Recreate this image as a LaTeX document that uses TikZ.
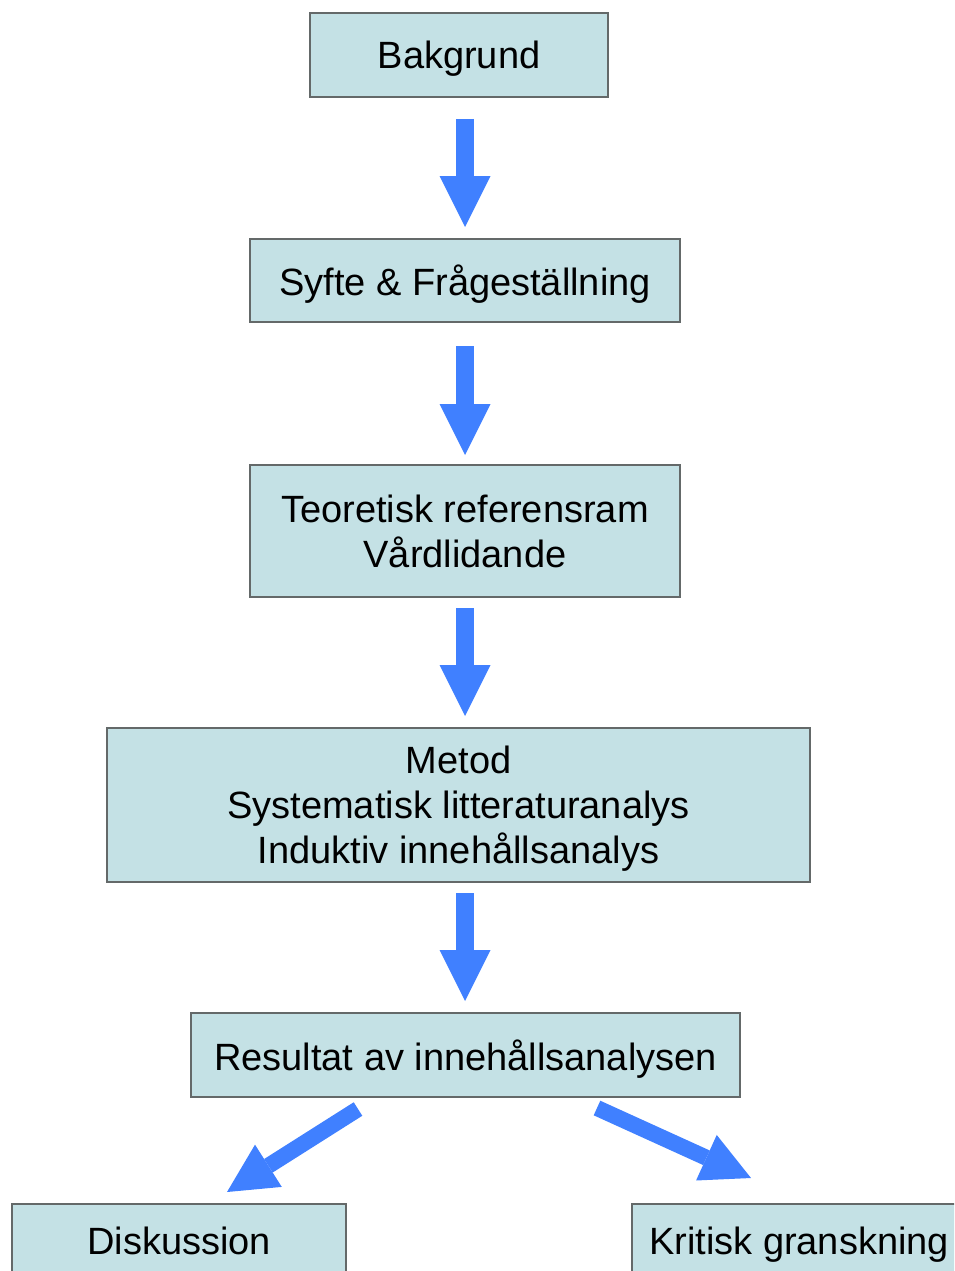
\documentclass[tikz,border=0pt]{standalone}
\usepackage{fontspec}
\setmainfont{Liberation Sans}
\usetikzlibrary{arrows.meta}
\definecolor{boxfill}{RGB}{196,225,229}
\definecolor{boxline}{RGB}{100,105,105}
\definecolor{arrblue}{RGB}{64,128,255}
\begin{document}
\begin{tikzpicture}[x=1pt,y=-1pt,
  box/.style={draw=boxline,line width=1.5pt,fill=boxfill,align=center,inner sep=0pt,
    text depth=0pt,font=\fontsize{38}{45}\selectfont},
  vflow/.style={draw=arrblue,line width=18pt,-{Triangle[width=51pt,length=51pt,line width=0pt]}},
  dflow/.style={draw=arrblue,line width=16pt,-{Triangle[width=50pt,length=49pt,line width=0pt]}}]
\clip (0,0) rectangle (954,1271);
\fill[white] (0,0) rectangle (954,1271);
\node[box,minimum width=298pt,minimum height=84pt] (bak) at (459,55) {Bakgrund};
\node[box,minimum width=430pt,minimum height=83pt] (syf) at (465,280.5) {Syfte \& Frågeställning};
\node[box,minimum width=430pt,minimum height=132pt] (teo) at (465,531) {Teoretisk referensram\\Vårdlidande};
\node[box,minimum width=703pt,minimum height=154pt] (met) at (458.5,805) {Metod\\Systematisk litteraturanalys\\Induktiv innehållsanalys};
\node[box,minimum width=549pt,minimum height=84pt] (res) at (465.5,1055) {Resultat av innehållsanalysen};
\node[box,minimum width=334pt,minimum height=74pt] (dis) at (179,1241) {Diskussion};
\node[box,minimum width=334pt,minimum height=74pt] (kri) at (799,1241) {Kritisk granskning};
\coordinate (a1s) at (465,119); \coordinate (a1e) at (465,227);
\coordinate (a2s) at (465,346); \coordinate (a2e) at (465,455);
\coordinate (a3s) at (465,608); \coordinate (a3e) at (465,716);
\coordinate (a4s) at (465,893); \coordinate (a4e) at (465,1001);
\coordinate (a5s) at (358,1109); \coordinate (a5e) at (227,1192);
\coordinate (a6s) at (597,1108); \coordinate (a6e) at (751,1178);
\draw[vflow] (a1s) -- (a1e);
\draw[vflow] (a2s) -- (a2e);
\draw[vflow] (a3s) -- (a3e);
\draw[vflow] (a4s) -- (a4e);
\draw[dflow] (a5s) -- (a5e);
\draw[dflow] (a6s) -- (a6e);
\end{tikzpicture}
\end{document}
